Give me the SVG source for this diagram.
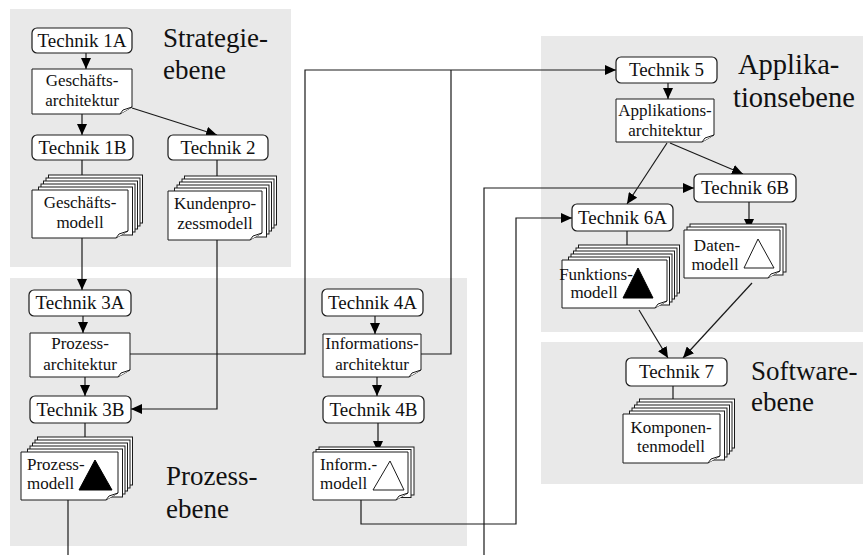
<svg xmlns="http://www.w3.org/2000/svg" width="863" height="555" viewBox="0 0 863 555">
  <style>
    .panel { fill: #e9e9e9; }
    .box { fill: #ffffff; stroke: #1a1a1a; stroke-width: 1.2; }
    .page { fill: #ffffff; stroke: #1a1a1a; stroke-width: 1; }
    .flap { fill: #ffffff; stroke: #1a1a1a; stroke-width: 1; stroke-linejoin: round; }
    .tech { font-family: "Liberation Serif", "Times New Roman", serif; font-size: 19px; fill: #111; text-anchor: middle; }
    .doc { font-family: "Liberation Serif", "Times New Roman", serif; font-size: 17px; fill: #111; text-anchor: middle; }
    .docl { font-family: "Liberation Serif", "Times New Roman", serif; font-size: 17px; fill: #111; }
    .level { font-family: "Liberation Serif", "Times New Roman", serif; font-size: 27px; fill: #111; }
    .level.big { font-size: 28.5px; }
    .conn { fill: none; stroke: #1a1a1a; stroke-width: 1.2; }
    .arrow { marker-end: url(#head); }
    .solid { fill: #000; stroke: #000; stroke-width: 1; }
    .hollow { fill: #fff; stroke: #1a1a1a; stroke-width: 1; }
  </style>
  <defs>
    <marker id="head" markerUnits="userSpaceOnUse" markerWidth="11" markerHeight="10" refX="11" refY="5" orient="auto">
      <path d="M0,0 L11,5 L0,10 Z" fill="#000"/>
    </marker>
  </defs>

  <!-- level backgrounds -->
  <g id="levels">
    <rect class="panel" x="10" y="9" width="281" height="258"/>
    <rect class="panel" x="10" y="278" width="457" height="268"/>
    <rect class="panel" x="541" y="36" width="322" height="296"/>
    <rect class="panel" x="541" y="342" width="322" height="142"/>
    <text class="level" x="163" y="47">Strategie-</text>
    <text class="level" x="163" y="79">ebene</text>
    <text class="level" x="166" y="485">Prozess-</text>
    <text class="level" x="166" y="518">ebene</text>
    <text class="level big" x="738" y="74">Applika-</text>
    <text class="level big" x="733" y="107">tionsebene</text>
    <text class="level" x="751" y="380">Software-</text>
    <text class="level" x="751" y="411">ebene</text>
  </g>

  <!-- connectors -->
  <g id="connectors">
    <path class="conn arrow" d="M86,53 V69"/>
    <path class="conn arrow" d="M82,114 V135"/>
    <path class="conn arrow" d="M132,108 L217,135"/>
    <path class="conn arrow" d="M82,160 V190"/>
    <path class="conn arrow" d="M217,160 V191"/>
    <path class="conn arrow" d="M82,238 V290"/>
    <path class="conn arrow" d="M217,240 V409 H131"/>
    <path class="conn arrow" d="M83,316 V333"/>
    <path class="conn arrow" d="M85,377 V396"/>
    <path class="conn arrow" d="M85,423 V452"/>
    <path class="conn" d="M68,500 V555"/>
    <path class="conn arrow" d="M130,354 H305 V70 H616"/>
    <path class="conn" d="M421,354 H451 V70"/>
    <path class="conn arrow" d="M375,316 V334"/>
    <path class="conn arrow" d="M377,377 V396"/>
    <path class="conn arrow" d="M378,423 V452"/>
    <path class="conn arrow" d="M361,500 V524 H516 V218 H572"/>
    <path class="conn arrow" d="M484,555 V188 H694"/>
    <path class="conn arrow" d="M668,83 V99"/>
    <path class="conn arrow" d="M667,143 L627,204"/>
    <path class="conn arrow" d="M670,143 L743,174"/>
    <path class="conn arrow" d="M627,231 V260"/>
    <path class="conn arrow" d="M749,202 V230"/>
    <path class="conn arrow" d="M639,310 L668,358"/>
    <path class="conn arrow" d="M752,283 L683,358"/>
    <path class="conn arrow" d="M673,386 V414"/>
  </g>

  <!-- Strategieebene -->
  <g id="technik-1a">
    <rect class="box" x="32" y="28" width="100" height="25" rx="5"/>
    <text class="tech" x="82" y="47">Technik 1A</text>
  </g>
  <g id="geschaeftsarchitektur">
    <path class="page" d="M32,69 H132 V107 L120,114 H32 Z"/>
    <path class="flap" d="M132,107 L123,110 L120,114"/>
    <text class="doc" x="82" y="86">Geschäfts-</text>
    <text class="doc" x="82" y="106">architektur</text>
  </g>
  <g id="technik-1b">
    <rect class="box" x="32" y="135" width="101" height="25" rx="5"/>
    <text class="tech" x="82.5" y="154">Technik 1B</text>
  </g>
  <g id="technik-2">
    <rect class="box" x="168" y="135" width="100" height="25" rx="5"/>
    <text class="tech" x="218" y="154">Technik 2</text>
  </g>
  <g id="geschaeftsmodell">
    <rect class="page" x="48.5" y="175" width="94" height="48"/>
    <rect class="page" x="46" y="178" width="94" height="48"/>
    <rect class="page" x="43.5" y="181" width="94" height="48"/>
    <rect class="page" x="41" y="184" width="94" height="48"/>
    <rect class="page" x="38.5" y="187" width="94" height="48"/>
    <path class="page" d="M32,190 H128 V231 L116,238 H32 Z"/>
    <path class="flap" d="M128,231 L119,234 L116,238"/>
    <text class="doc" x="80" y="208">Geschäfts-</text>
    <text class="doc" x="80" y="228">modell</text>
  </g>
  <g id="kundenprozessmodell">
    <rect class="page" x="184.5" y="176" width="92" height="49"/>
    <rect class="page" x="182" y="179" width="92" height="49"/>
    <rect class="page" x="179.5" y="182" width="92" height="49"/>
    <rect class="page" x="177" y="185" width="92" height="49"/>
    <rect class="page" x="174.5" y="188" width="92" height="49"/>
    <path class="page" d="M168,191 H262 V233 L250,240 H168 Z"/>
    <path class="flap" d="M262,233 L253,236 L250,240"/>
    <text class="doc" x="215" y="209">Kundenpro-</text>
    <text class="doc" x="215" y="229">zessmodell</text>
  </g>

  <!-- Prozessebene -->
  <g id="technik-3a">
    <rect class="box" x="29" y="290" width="102" height="26" rx="5"/>
    <text class="tech" x="80" y="309">Technik 3A</text>
  </g>
  <g id="prozessarchitektur">
    <path class="page" d="M30,333 H130 V370 L118,377 H30 Z"/>
    <path class="flap" d="M130,370 L121,373 L118,377"/>
    <text class="doc" x="80" y="349">Prozess-</text>
    <text class="doc" x="80" y="370">architektur</text>
  </g>
  <g id="technik-3b">
    <rect class="box" x="30" y="396" width="101" height="27" rx="5"/>
    <text class="tech" x="80.5" y="416">Technik 3B</text>
  </g>
  <g id="prozessmodell">
    <rect class="page" x="37.5" y="437" width="95" height="48"/>
    <rect class="page" x="35" y="440" width="95" height="48"/>
    <rect class="page" x="32.5" y="443" width="95" height="48"/>
    <rect class="page" x="30" y="446" width="95" height="48"/>
    <rect class="page" x="27.5" y="449" width="95" height="48"/>
    <path class="page" d="M21,452 H118 V493 L106,500 H21 Z"/>
    <path class="flap" d="M118,493 L109,496 L106,500"/>
    <text class="docl" x="27" y="470">Prozess-</text>
    <text class="docl" x="27" y="489">modell</text>
    <polygon class="solid" points="95,460 79,490 112,490"/>
  </g>
  <g id="technik-4a">
    <rect class="box" x="322" y="289" width="101" height="27" rx="5"/>
    <text class="tech" x="372.5" y="309">Technik 4A</text>
  </g>
  <g id="informationsarchitektur">
    <path class="page" d="M323,334 H421 V370 L409,377 H323 Z"/>
    <path class="flap" d="M421,370 L412,373 L409,377"/>
    <text class="doc" x="372" y="349">Informations-</text>
    <text class="doc" x="372" y="370">architektur</text>
  </g>
  <g id="technik-4b">
    <rect class="box" x="323" y="396" width="101" height="27" rx="5"/>
    <text class="tech" x="373.5" y="416">Technik 4B</text>
  </g>
  <g id="informationsmodell">
    <rect class="page" x="319" y="447" width="95" height="48"/>
    <rect class="page" x="316" y="449.5" width="95" height="48"/>
    <path class="page" d="M313,452 H408 V493 L396,500 H313 Z"/>
    <path class="flap" d="M408,493 L399,496 L396,500"/>
    <text class="docl" x="320" y="470">Inform.-</text>
    <text class="docl" x="320" y="489">modell</text>
    <polygon class="hollow" points="390,461 373,490 404,490"/>
  </g>

  <!-- Applikationsebene -->
  <g id="technik-5">
    <rect class="box" x="616" y="57" width="101" height="26" rx="5"/>
    <text class="tech" x="666.5" y="76">Technik 5</text>
  </g>
  <g id="applikationsarchitektur">
    <path class="page" d="M616,99 H714 V135 L702,142 H616 Z"/>
    <path class="flap" d="M714,135 L705,138 L702,142"/>
    <text class="doc" x="665" y="116">Applikations-</text>
    <text class="doc" x="665" y="136">architektur</text>
  </g>
  <g id="technik-6b">
    <rect class="box" x="694" y="174" width="102" height="28" rx="5"/>
    <text class="tech" x="745" y="194">Technik 6B</text>
  </g>
  <g id="technik-6a">
    <rect class="box" x="572" y="204" width="101" height="27" rx="5"/>
    <text class="tech" x="622.5" y="224">Technik 6A</text>
  </g>
  <g id="funktionsmodell">
    <rect class="page" x="578.5" y="245" width="101" height="48"/>
    <rect class="page" x="576" y="248" width="101" height="48"/>
    <rect class="page" x="573.5" y="251" width="101" height="48"/>
    <rect class="page" x="571" y="254" width="101" height="48"/>
    <rect class="page" x="568.5" y="257" width="101" height="48"/>
    <path class="page" d="M562,260 H667 V301 L655,308 H562 Z"/>
    <path class="flap" d="M667,301 L658,304 L655,308"/>
    <text class="doc" x="596" y="280">Funktions-</text>
    <text class="doc" x="594" y="298">modell</text>
    <polygon class="solid" points="638,268 623,298 653,298"/>
  </g>
  <g id="datenmodell">
    <rect class="page" x="690" y="224" width="96" height="48"/>
    <rect class="page" x="687" y="227" width="96" height="48"/>
    <path class="page" d="M684,230 H780 V271 L768,278 H684 Z"/>
    <path class="flap" d="M780,271 L771,274 L768,278"/>
    <text class="doc" x="717" y="251">Daten-</text>
    <text class="doc" x="715" y="270">modell</text>
    <polygon class="hollow" points="758,239 744,268 774,268"/>
  </g>

  <!-- Softwareebene -->
  <g id="technik-7">
    <rect class="box" x="626" y="358" width="101" height="28" rx="5"/>
    <text class="tech" x="676.5" y="378">Technik 7</text>
  </g>
  <g id="komponentenmodell">
    <rect class="page" x="639.5" y="399" width="95" height="49"/>
    <rect class="page" x="637" y="402" width="95" height="49"/>
    <rect class="page" x="634.5" y="405" width="95" height="49"/>
    <rect class="page" x="632" y="408" width="95" height="49"/>
    <rect class="page" x="629.5" y="411" width="95" height="49"/>
    <path class="page" d="M623,414 H720 V456 L708,463 H623 Z"/>
    <path class="flap" d="M720,456 L711,459 L708,463"/>
    <text class="doc" x="671" y="433">Komponen-</text>
    <text class="doc" x="671" y="452">tenmodell</text>
  </g>
</svg>
